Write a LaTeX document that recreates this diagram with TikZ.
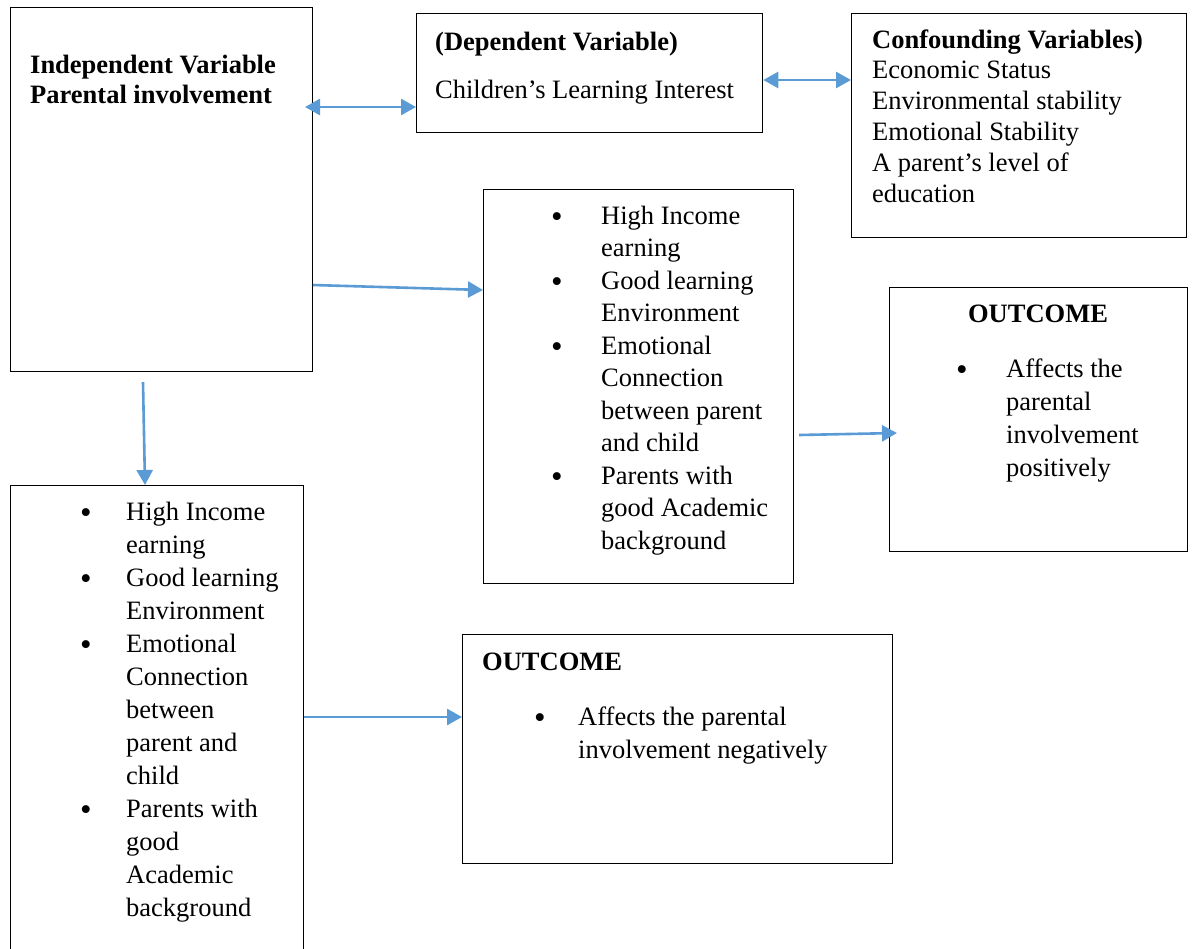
\documentclass[tikz,border=0pt]{standalone}
\usepackage{fontspec}
\setmainfont{Liberation Serif}
\usetikzlibrary{arrows.meta}
\definecolor{arrblue}{HTML}{5B9BD5}
\begin{document}
\begin{tikzpicture}[x=1pt,y=-1pt,
  box/.style={draw=black,line width=1.3pt,inner sep=0pt,anchor=north west,rectangle},
  txt/.style={anchor=base west,inner sep=0pt,align=left,font=\fontsize{26.5}{33}\selectfont},
  bul/.style={anchor=base west,inner sep=0pt,yshift=-3pt,font=\fontsize{33}{33}\selectfont},
  arr/.style={draw=arrblue,line width=2.6pt,-{Triangle[length=15pt,width=16pt]}},
  dbl/.style={draw=arrblue,line width=2.6pt,{Triangle[length=15pt,width=16pt]}-{Triangle[length=15pt,width=16pt]}}]
\clip (0,0) rectangle (1194,948);
\fill[white] (0,0) rectangle (1194,948);
% boxes
\node[box,minimum width=302pt,minimum height=364pt] (indep) at (9.5,7) {};
\node[box,minimum width=346pt,minimum height=119pt] (dep) at (416,13) {};
\node[box,minimum width=335pt,minimum height=224pt] (conf) at (851,13) {};
\node[box,minimum width=310pt,minimum height=394pt] (mid) at (483,189) {};
\node[box,minimum width=298pt,minimum height=264pt] (pos) at (889,287) {};
\node[box,minimum width=430pt,minimum height=229pt] (neg) at (462,634) {};
\node[box,minimum width=293pt,minimum height=480pt] (left) at (10,485) {};
% texts (base anchor = baseline of the last line)
\node[txt,font=\fontsize{26.5}{30}\selectfont\bfseries] (tindep) at (30,103) {Independent Variable\\Parental involvement};
\node[txt,font=\fontsize{26.5}{33}\selectfont\bfseries] (tdep1) at (435,50) {(Dependent Variable)};
\node[txt] (tdep2) at (435,98) {Children’s Learning Interest};
\node[txt,font=\fontsize{26.5}{30.8}\selectfont] (tconf) at (872,202) {\textbf{Confounding Variables)}\\Economic Status\\Environmental stability\\Emotional Stability\\A parent’s level of\\education};
% middle list
\node[txt,font=\fontsize{26.5}{32.5}\selectfont] (tmid) at (601,549) {High Income\\earning\\Good learning\\Environment\\Emotional\\Connection\\between parent\\and child\\Parents with\\good Academic\\background};
\node[bul] (bm1) at (551,224) {\textbullet};
\node[bul] (bm2) at (551,289) {\textbullet};
\node[bul] (bm3) at (551,354) {\textbullet};
\node[bul] (bm4) at (551,484) {\textbullet};
% positive outcome
\node[anchor=base,inner sep=0pt,font=\fontsize{26.5}{33}\selectfont\bfseries] (tpos1) at (1038,322) {OUTCOME};
\node[bul] (bp1) at (956,377) {\textbullet};
\node[txt] (tpos2) at (1006,476) {Affects the\\parental\\involvement\\positively};
% negative outcome
\node[txt,font=\fontsize{26.5}{33}\selectfont\bfseries] (tneg1) at (482,670) {OUTCOME};
\node[bul] (bn1) at (534,725) {\textbullet};
\node[txt] (tneg2) at (578,758) {Affects the parental\\involvement negatively};
% left list
\node[txt] (tleft) at (126,916) {High Income\\earning\\Good learning\\Environment\\Emotional\\Connection\\between\\parent and\\child\\Parents with\\good\\Academic\\background};
\node[bul] (bl1) at (80,520) {\textbullet};
\node[bul] (bl2) at (80,586) {\textbullet};
\node[bul] (bl3) at (80,652) {\textbullet};
\node[bul] (bl4) at (80,817) {\textbullet};
% connectors
\coordinate (a1) at (305,107);
\coordinate (a2) at (800,80);
\coordinate (a3s) at (312,285);
\coordinate (a3e) at (484,290);
\coordinate (a4) at (143,382);
\coordinate (a5) at (799,435);
\coordinate (a5e) at (897,433);
\coordinate (a6) at (304,717);
\draw[dbl] (a1) -- (a1 -| dep.west);
\draw[dbl] (a2 -| dep.east) -- (a2 -| conf.west);
\draw[arr] (a3s -| indep.east) -- (a3e -| mid.west);
\draw[arr] (a4) -- (left.north -| 145,0);
\draw[arr] (a5) -- (a5e);
\draw[arr] (a6) -- (a6 -| neg.west);
\end{tikzpicture}
\end{document}
